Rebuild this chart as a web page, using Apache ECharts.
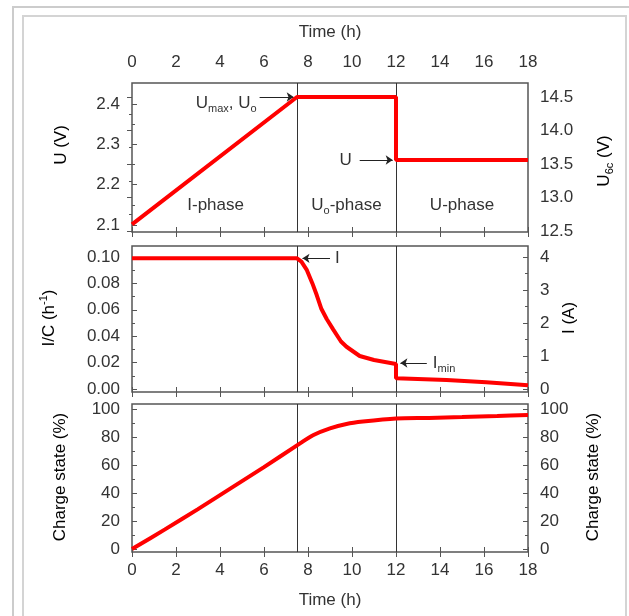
<!DOCTYPE html>
<html>
<head>
<meta charset="utf-8">
<script src="https://cdn.jsdelivr.net/npm/echarts@6/dist/echarts.min.js"></script>
<style>
  html, body { margin: 0; padding: 0; background: #fff; }
  #chart { width: 629px; height: 616px; }
</style>
</head>
<body>
<div id="chart"></div>
<script>
// phase boundaries (h)
const phaseBounds = [7.5, 12];

// panel 1: charging voltage of the 6-cell battery (V)
const uTime = [0, 7.5, 12, 12, 18];
const uVolt = [12.6, 14.5, 14.5, 13.56, 13.56];

// panel 2: charge current relative to capacity, I/C (1/h)
const icTime = [0, 7.5, 7.7, 7.95, 8.2, 8.4, 8.6, 8.85, 9.15, 9.5, 9.75, 10.35, 11.0, 12.0, 12.0, 14.3, 16.1, 18];
const icRate = [0.099, 0.099, 0.0965, 0.09, 0.08, 0.071, 0.061, 0.053, 0.045, 0.036, 0.032, 0.025, 0.022, 0.019, 0.0082, 0.0068, 0.0051, 0.0028];

// panel 3: charge state (%)
const socTime = [0, 1.5, 3, 4.5, 6, 7.5, 8.25, 9, 9.75, 10.5, 12, 13.5, 15, 16.6, 18];
const socPct = [0, 14, 28.5, 43.5, 58.5, 74, 81.4, 86.2, 89.3, 91, 93.2, 93.6, 94.2, 95, 95.8];

// phase labels
const phaseNames = ['{b|I-phase}', '{b|U}{s|o}{b|-phase}', '{b|U-phase}'];
const phaseMid = [3.8, 9.75, 15];
const phaseLabelLevel = 12.89;

const FONT = 'Liberation Sans';
const TXT = '#333';
const AX = '#555';
const RED = '#f00';

const rich = {
  b: { fontSize: 17, color: TXT, fontFamily: FONT },
  s: { fontSize: 11, color: TXT, fontFamily: FONT, padding: [12, 0, 0, 0] },
  p: { fontSize: 11, color: TXT, fontFamily: FONT, padding: [0, 0, 10, 0] }
};

const zip = (xs, ys) => xs.map((x, i) => [x, ys[i]]);

const L = 132, R = 101;
const frame = { show: true, borderColor: AX, borderWidth: 1.5, backgroundColor: 'transparent' };

// time axes: frame ticks on top and bottom of each panel, hidden ones for the data grids
function timeAxis(grid, pos, extra) {
  return Object.assign({
    type: 'value', gridIndex: grid, position: pos, min: 0, max: 18, interval: 2,
    axisLine: { show: false },
    axisTick: { show: true, inside: true, length: 5, lineStyle: { color: AX, width: 1 } },
    axisLabel: { show: false },
    splitLine: { show: false }
  }, extra || {});
}
const hiddenX = g => ({ type: 'value', gridIndex: g, min: 0, max: 18, show: false });
const hiddenY = g => ({ type: 'value', gridIndex: g, min: 0, max: 1, show: false });

const labelStyle = { color: TXT, fontFamily: FONT, fontSize: 17 };

function valueAxis(grid, pos, min, max, interval, digits) {
  return {
    type: 'value', gridIndex: grid, position: pos, min: min, max: max, interval: interval,
    axisLine: { show: false },
    axisTick: { show: true, inside: true, length: 5, lineStyle: { color: AX, width: 1 } },
    minorTick: { show: true, splitNumber: 2, length: 3, lineStyle: { color: AX, width: 1 } },
    axisLabel: Object.assign({ margin: 12, formatter: v => v.toFixed(digits) }, labelStyle),
    splitLine: { show: false }
  };
}

const timeLabel = (margin) => Object.assign({ show: true, margin: margin }, labelStyle);
const timeName = { name: 'Time (h)', nameLocation: 'middle', nameTextStyle: labelStyle };

// vertical phase lines in each panel frame
const phaseLines = (xi, yi) => ({
  type: 'line', xAxisIndex: xi, yAxisIndex: yi, data: [], z: 1, silent: true,
  markLine: {
    silent: true, symbol: 'none', animation: false,
    label: { show: false },
    lineStyle: { color: '#333', width: 1, type: 'solid' },
    emphasis: { disabled: true },
    data: phaseBounds.map(v => ({ xAxis: v }))
  }
});

const arrowStyle = {
  silent: true, symbol: ['none', 'arrow'], symbolSize: 7, animation: false,
  lineStyle: { color: '#222', width: 1, type: 'solid' },
  emphasis: { disabled: true },
  label: { show: true, position: 'start', rich: rich }
};

const yNames = [
  { text: '{b|U (V)}', x: 61, y: 145 },
  { text: '{b|U}{s|6c}{b| (V)}', x: 604, y: 161 },
  { text: '{b|I/C (h}{p|-1}{b|)}', x: 49, y: 318 },
  { text: '{b|I (A)}', x: 569, y: 318 },
  { text: '{b|Charge state (%)}', x: 60, y: 477 },
  { text: '{b|Charge state (%)}', x: 593, y: 477 }
];

const chart = echarts.init(document.getElementById('chart'));
chart.setOption({
  animation: false,
  backgroundColor: '#fff',
  textStyle: { fontFamily: FONT },
  graphic: [
    { type: 'polyline', silent: true, shape: { points: [[13, 616], [13, 7], [629, 7]] }, style: { stroke: '#ccc', lineWidth: 2, fill: null } },
    { type: 'polyline', silent: true, shape: { points: [[23, 616], [23, 16], [626, 16], [626, 616]] }, style: { stroke: '#d4d4d4', lineWidth: 2, fill: null } }
  ].concat(yNames.map(n => ({
    type: 'text', silent: true, x: n.x, y: n.y, rotation: Math.PI / 2,
    style: { text: n.text, rich: rich, align: 'center', verticalAlign: 'middle' }
  }))),
  grid: [
    Object.assign({ left: L, right: R, top: 83, height: 149 }, frame),
    { left: L, right: R, top: 104, height: 121 },
    { left: L, right: R, top: 97, height: 134 },
    Object.assign({ left: L, right: R, top: 246, height: 146 }, frame),
    { left: L, right: R, top: 257, height: 132 },
    Object.assign({ left: L, right: R, top: 404, height: 148 }, frame),
    { left: L, right: R, top: 409, height: 140 }
  ],
  xAxis: [
    timeAxis(0, 'top', Object.assign({ axisLabel: timeLabel(12), nameGap: 42 }, timeName)),
    timeAxis(0, 'bottom'),
    hiddenX(1),
    hiddenX(2),
    timeAxis(3, 'top'),
    timeAxis(3, 'bottom'),
    hiddenX(4),
    timeAxis(5, 'top'),
    timeAxis(5, 'bottom', Object.assign({ axisLabel: timeLabel(10), nameGap: 40 }, timeName)),
    hiddenX(6)
  ],
  yAxis: [
    hiddenY(0),
    valueAxis(1, 'left', 2.1, 2.4, 0.1, 1),
    valueAxis(2, 'right', 12.5, 14.5, 0.5, 1),
    hiddenY(3),
    valueAxis(4, 'left', 0, 0.1, 0.02, 2),
    valueAxis(4, 'right', 0, 4, 1, 0),
    hiddenY(5),
    valueAxis(6, 'left', 0, 100, 20, 0),
    valueAxis(6, 'right', 0, 100, 20, 0)
  ],
  series: [
    phaseLines(0, 0),
    phaseLines(4, 3),
    phaseLines(7, 6),
    {
      type: 'line', name: 'U', xAxisIndex: 3, yAxisIndex: 2, z: 5, clip: false,
      data: zip(uTime, uVolt), symbol: 'none', lineStyle: { color: RED, width: 4 },
      markLine: Object.assign({}, arrowStyle, {
        data: [
          [{ coord: [5.8, 14.5], label: { formatter: '{b|U}{s|max}{b|, U}{s|o}', distance: 3, padding: [12, 0, 0, 0] } }, { coord: [7.35, 14.5] }],
          [{ coord: [10.35, 13.56], label: { formatter: '{b|U}', distance: 8 } }, { coord: [11.85, 13.56] }]
        ]
      }),
      markPoint: {
        silent: true, symbol: 'rect', symbolSize: 1, animation: false,
        itemStyle: { color: 'transparent' },
        label: { show: true, position: 'inside', rich: rich, formatter: p => p.name },
        data: phaseNames.map((n, i) => ({ name: n, coord: [phaseMid[i], phaseLabelLevel] }))
      }
    },
    {
      type: 'line', name: 'I/C', xAxisIndex: 6, yAxisIndex: 4, z: 5, clip: false,
      data: zip(icTime, icRate), symbol: 'none', lineStyle: { color: RED, width: 4 },
      markLine: Object.assign({}, arrowStyle, {
        data: [
          [{ coord: [9.0, 0.099], label: { formatter: '{b|I}', distance: 5 } }, { coord: [7.75, 0.099] }],
          [{ coord: [13.4, 0.0197], label: { formatter: '{b|I}{s|min}', distance: 6 } }, { coord: [12.2, 0.0197] }]
        ]
      })
    },
    {
      type: 'line', name: 'Charge state', xAxisIndex: 9, yAxisIndex: 7, z: 5, clip: false,
      data: zip(socTime, socPct), symbol: 'none', smooth: 0.3, lineStyle: { color: RED, width: 4 }
    }
  ]
});
</script>
</body>
</html>
